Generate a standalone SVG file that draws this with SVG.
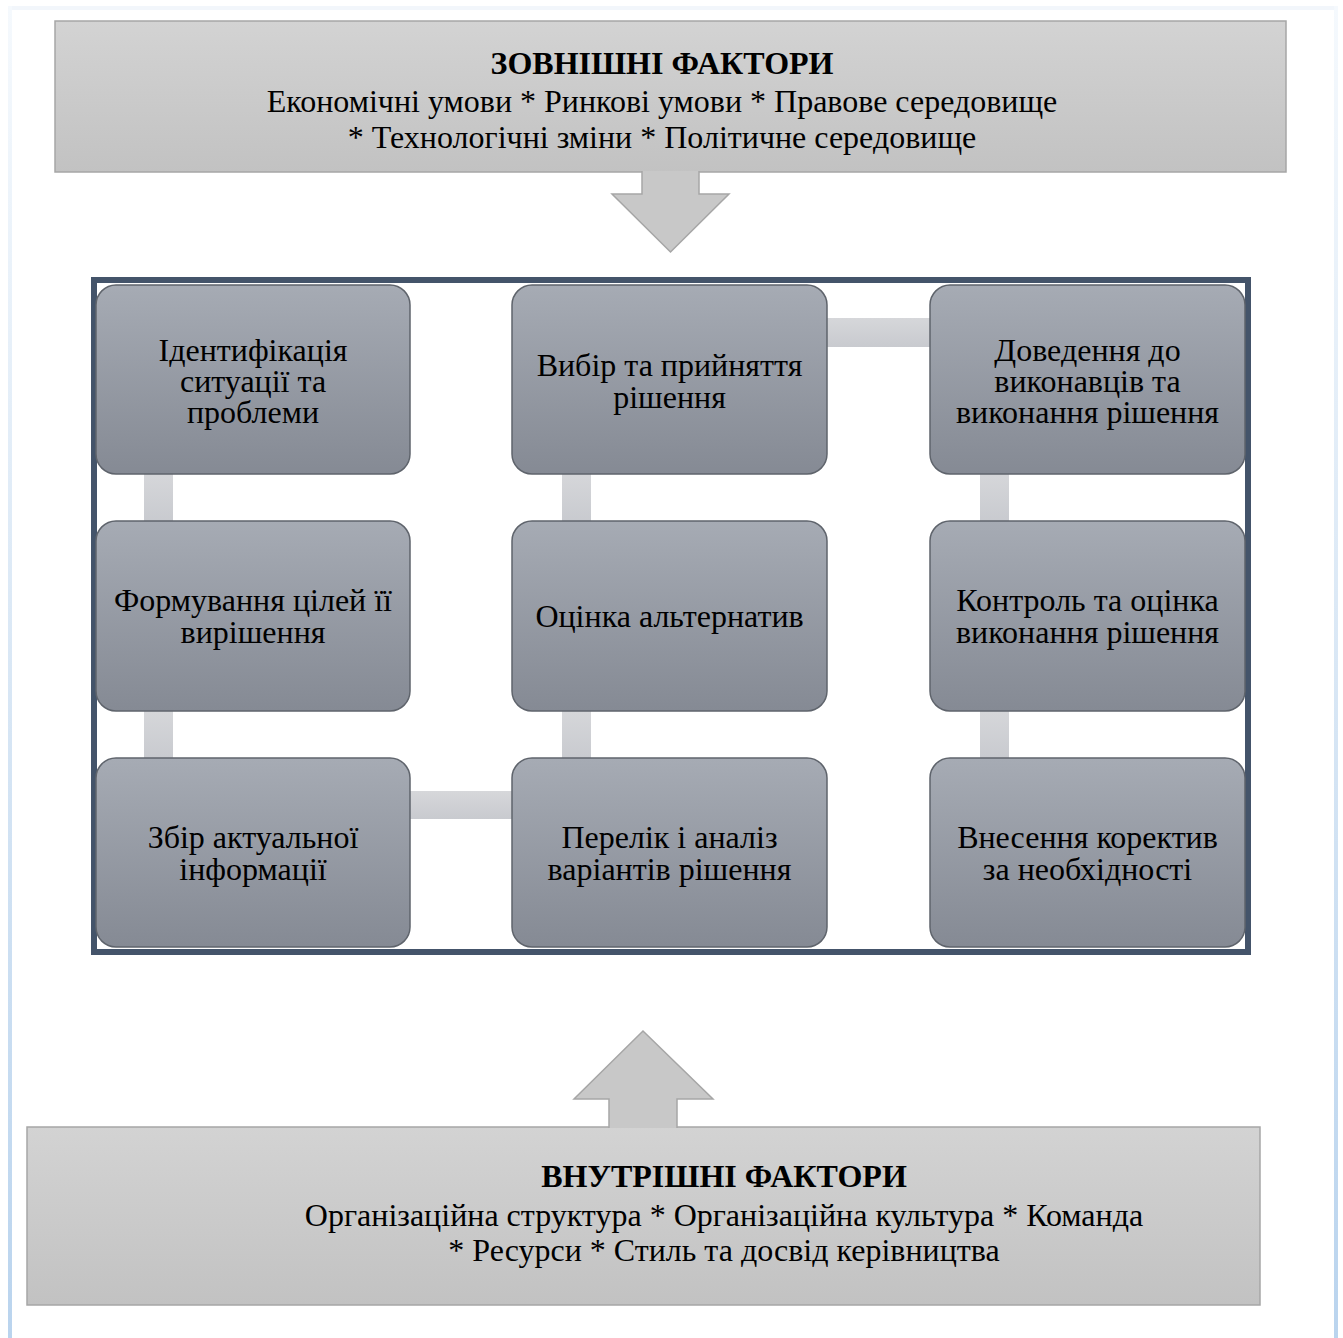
<svg xmlns="http://www.w3.org/2000/svg" width="1343" height="1338" viewBox="0 0 1343 1338">
<defs>
  <linearGradient id="page" x1="0" y1="0" x2="0" y2="1">
    <stop offset="0" stop-color="#f5f9fd"/>
    <stop offset="0.5" stop-color="#d9e7f5"/>
    <stop offset="1" stop-color="#bad4ee"/>
  </linearGradient>
  <linearGradient id="boxg" x1="0" y1="0" x2="0" y2="1">
    <stop offset="0" stop-color="#d3d3d3"/>
    <stop offset="1" stop-color="#c2c2c2"/>
  </linearGradient>
  <linearGradient id="nodeg" x1="0" y1="0" x2="0" y2="1">
    <stop offset="0" stop-color="#a6abb4"/>
    <stop offset="1" stop-color="#858a94"/>
  </linearGradient>
  <linearGradient id="barg" x1="0" y1="0" x2="0" y2="1">
    <stop offset="0" stop-color="#d6d7da"/>
    <stop offset="1" stop-color="#c8cacf"/>
  </linearGradient>
  <style>
    .factor { fill: url(#boxg); stroke: #a6a6a6; stroke-width: 1.5; }
    .arrow { fill: #c8c8c8; stroke: #a6a6a6; stroke-width: 1.5; stroke-linejoin: miter; }
    .node rect { fill: url(#nodeg); stroke: #5f646c; stroke-width: 1.5; }
    .bar { fill: url(#barg); }
    text { font-family: "Liberation Serif", "Times New Roman", serif; fill: #000; text-anchor: middle; }
    .nt { font-size: 32px; }
    .ft { font-size: 32px; }
    .fh { font-size: 32px; font-weight: bold; }
  </style>
</defs>

<g id="page-border">
  <rect x="8" y="6" width="1330" height="4" fill="#f2f6fb"/>
  <rect x="8" y="6" width="4" height="1332" fill="url(#page)"/>
  <rect x="1334" y="6" width="4" height="1332" fill="url(#page)"/>
</g>

<g id="external-factors">
  <rect class="factor" x="55" y="21" width="1231" height="151"/>
  <text class="fh" x="662" y="74">ЗОВНІШНІ ФАКТОРИ</text>
  <text class="ft" x="662" y="112">Економічні умови * Ринкові умови * Правове середовище</text>
  <text class="ft" x="662" y="148">* Технологічні зміни * Політичне середовище</text>
</g>

<g id="internal-factors">
  <rect class="factor" x="27" y="1127" width="1233" height="178"/>
  <text class="fh" x="724" y="1187">ВНУТРІШНІ ФАКТОРИ</text>
  <text class="ft" x="724" y="1226">Організаційна структура * Організаційна культура * Команда</text>
  <text class="ft" x="724" y="1261">* Ресурси * Стиль та досвід керівництва</text>
</g>

<g id="frame">
  <rect x="94" y="280" width="1154" height="672" fill="#ffffff" stroke="#44546a" stroke-width="6"/>
</g>

<g id="connectors">
  <path class="arrow" d="M642,171 V194 H612 L670.5,252 L729,194 H699 V171"/>
  <path class="arrow" d="M609,1128 V1099 H574 L643,1031 L713,1099 H677 V1128"/>
  <rect class="bar" x="144" y="472" width="29" height="51"/>
  <rect class="bar" x="144" y="709" width="29" height="51"/>
  <rect class="bar" x="408" y="791" width="106" height="28"/>
  <rect class="bar" x="562" y="709" width="29" height="51"/>
  <rect class="bar" x="562" y="472" width="29" height="51"/>
  <rect class="bar" x="825" y="318" width="107" height="29"/>
  <rect class="bar" x="980" y="472" width="29" height="51"/>
  <rect class="bar" x="980" y="709" width="29" height="51"/>
</g>

<g id="n1" class="node">
  <rect x="96" y="285" width="314" height="189" rx="20"/>
  <text class="nt" x="253" y="361">Ідентифікація</text>
  <text class="nt" x="253" y="392">ситуації та</text>
  <text class="nt" x="253" y="423">проблеми</text>
</g>
<g id="n2" class="node">
  <rect x="96" y="521" width="314" height="190" rx="20"/>
  <text class="nt" x="253" y="611">Формування цілей її</text>
  <text class="nt" x="253" y="643">вирішення</text>
</g>
<g id="n3" class="node">
  <rect x="96" y="758" width="314" height="189" rx="20"/>
  <text class="nt" x="253" y="848">Збір актуальної</text>
  <text class="nt" x="253" y="880">інформації</text>
</g>
<g id="n4" class="node">
  <rect x="512" y="758" width="315" height="189" rx="20"/>
  <text class="nt" x="669.5" y="848">Перелік і аналіз</text>
  <text class="nt" x="669.5" y="880">варіантів рішення</text>
</g>
<g id="n5" class="node">
  <rect x="512" y="521" width="315" height="190" rx="20"/>
  <text class="nt" x="669.5" y="627">Оцінка альтернатив</text>
</g>
<g id="n6" class="node">
  <rect x="512" y="285" width="315" height="189" rx="20"/>
  <text class="nt" x="669.5" y="376">Вибір та прийняття</text>
  <text class="nt" x="669.5" y="408">рішення</text>
</g>
<g id="n7" class="node">
  <rect x="930" y="285" width="315" height="189" rx="20"/>
  <text class="nt" x="1087.5" y="361">Доведення до</text>
  <text class="nt" x="1087.5" y="392">виконавців та</text>
  <text class="nt" x="1087.5" y="423">виконання рішення</text>
</g>
<g id="n8" class="node">
  <rect x="930" y="521" width="315" height="190" rx="20"/>
  <text class="nt" x="1087.5" y="611">Контроль та оцінка</text>
  <text class="nt" x="1087.5" y="643">виконання рішення</text>
</g>
<g id="n9" class="node">
  <rect x="930" y="758" width="315" height="189" rx="20"/>
  <text class="nt" x="1087.5" y="848">Внесення коректив</text>
  <text class="nt" x="1087.5" y="880">за необхідності</text>
</g>
</svg>
